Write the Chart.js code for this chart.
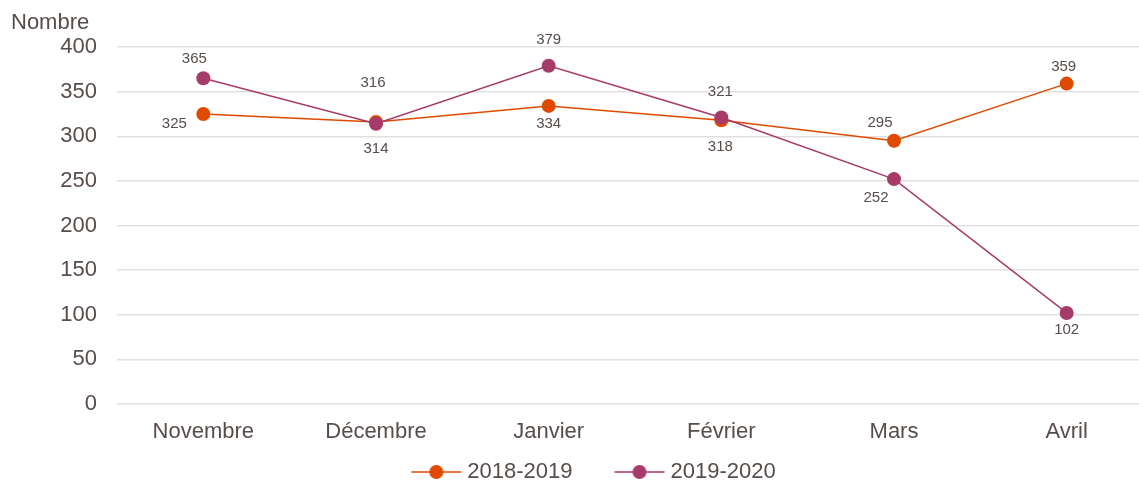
<!DOCTYPE html>
<html>
<head>
<meta charset="utf-8">
<script src="https://cdn.jsdelivr.net/npm/chart.js@4"></script>
<style>
html,body{margin:0;padding:0;overflow:hidden;background:#fff;}
canvas{display:block;}
</style>
</head>
<body>
<canvas id="c" width="1153" height="482" style="width:1153px;height:482px;"></canvas>
<script>
const categories = ['Novembre', 'Décembre', 'Janvier', 'Février', 'Mars', 'Avril'];
const seriesNames = ['2018-2019', '2019-2020'];
const values2018_2019 = [325, 316, 334, 318, 295, 359];
const values2019_2020 = [365, 314, 379, 321, 252, 102];
const yTicks = [0, 50, 100, 150, 200, 250, 300, 350, 400];

// label offsets (style, px)
const labelOffsetsA = [[-29, 10], [-3, -39], [0, 18], [-1, 27], [-14, -18], [-3, -17]];
const labelOffsetsB = [[-9, -19], [0, 25], [0, -26], [-1, -26], [-18, 19], [0, 17]];

const ORANGE = '#df4a00';
const PURPLE = '#a63a68';
const TEXT = '#574d4b';
const FONT = "'Liberation Sans', Arial, sans-serif";

// legend icon: transparent lead-in, then line with centered marker (86 wide)
function legendIcon(color) {
  const cv = document.createElement('canvas');
  cv.width = 86; cv.height = 16;
  const g = cv.getContext('2d');
  g.strokeStyle = color; g.lineWidth = 1.5;
  g.beginPath(); g.moveTo(34, 8); g.lineTo(84, 8); g.stroke();
  g.fillStyle = color;
  g.beginPath(); g.arc(59, 8, 7, 0, Math.PI * 2); g.fill();
  return cv;
}
const icons = [legendIcon(ORANGE), legendIcon(PURPLE)];

const labelPlugin = {
  id: 'dataLabels',
  afterDatasetsDraw(chart) {
    const ctx = chart.ctx;
    ctx.save();
    ctx.font = '15px ' + FONT;
    ctx.fillStyle = TEXT;
    ctx.textAlign = 'center';
    ctx.textBaseline = 'middle';
    const offs = [labelOffsetsA, labelOffsetsB];
    chart.data.datasets.forEach((ds, di) => {
      const meta = chart.getDatasetMeta(di);
      meta.data.forEach((pt, i) => {
        ctx.fillText(String(ds.data[i]), pt.x + offs[di][i][0], pt.y + offs[di][i][1]);
      });
    });
    ctx.restore();
  },
  afterDraw(chart) {
    const ctx = chart.ctx;
    ctx.save();
    ctx.font = '22px ' + FONT;
    ctx.fillStyle = TEXT;
    ctx.textAlign = 'left';
    ctx.textBaseline = 'middle';
    ctx.fillText('Nombre', 11, 23);
    ctx.restore();
  }
};

new Chart(document.getElementById('c'), {
  type: 'line',
  data: {
    labels: categories,
    datasets: [
      {
        label: seriesNames[0], data: values2018_2019,
        borderColor: ORANGE, backgroundColor: ORANGE,
        pointBackgroundColor: ORANGE, pointBorderColor: ORANGE,
        borderWidth: 1.5, pointRadius: 7, pointHoverRadius: 7, pointBorderWidth: 0,
        tension: 0, order: 1, pointStyle: 'circle'
      },
      {
        label: seriesNames[1], data: values2019_2020,
        borderColor: PURPLE, backgroundColor: PURPLE,
        pointBackgroundColor: PURPLE, pointBorderColor: PURPLE,
        borderWidth: 1.5, pointRadius: 7, pointHoverRadius: 7, pointBorderWidth: 0,
        tension: 0, order: 0, pointStyle: 'circle'
      }
    ]
  },
  options: {
    responsive: false,
    maintainAspectRatio: false,
    animation: false,
    devicePixelRatio: 1,
    layout: { autoPadding: false, padding: { left: 7, right: 0, top: 47, bottom: -11 } },
    plugins: {
      tooltip: { enabled: false },
      legend: {
        position: 'bottom',
        labels: {
          usePointStyle: true,
          pointStyleWidth: 72,
          boxHeight: 16,
          padding: 15,
          color: TEXT,
          font: { size: 22, family: FONT },
          generateLabels(chart) {
            return chart.data.datasets.map((ds, i) => ({
              text: ds.label, fillStyle: ds.borderColor, strokeStyle: ds.borderColor,
              fontColor: TEXT, lineWidth: 0, pointStyle: icons[i], datasetIndex: i, hidden: false
            }));
          }
        }
      }
    },
    scales: {
      x: {
        offset: true,
        grid: { display: false, drawTicks: false },
        border: { display: false },
        ticks: { color: TEXT, font: { size: 22, family: FONT }, padding: 15, maxRotation: 0 },
        afterFit(scale) { scale.height = 42; scale.paddingLeft = 0; scale.paddingRight = 0; }
      },
      y: {
        min: 0, max: 400,
        afterBuildTicks(scale) { scale.ticks = yTicks.map(v => ({ value: v })); },
        grid: { color: '#e3dfdf', lineWidth: 1.5, drawTicks: false },
        border: { display: false },
        ticks: { color: TEXT, font: { size: 22, family: FONT }, padding: 20 },
        afterFit(scale) { scale.width = 110; }
      }
    }
  },
  plugins: [labelPlugin]
});
</script>
</body>
</html>
